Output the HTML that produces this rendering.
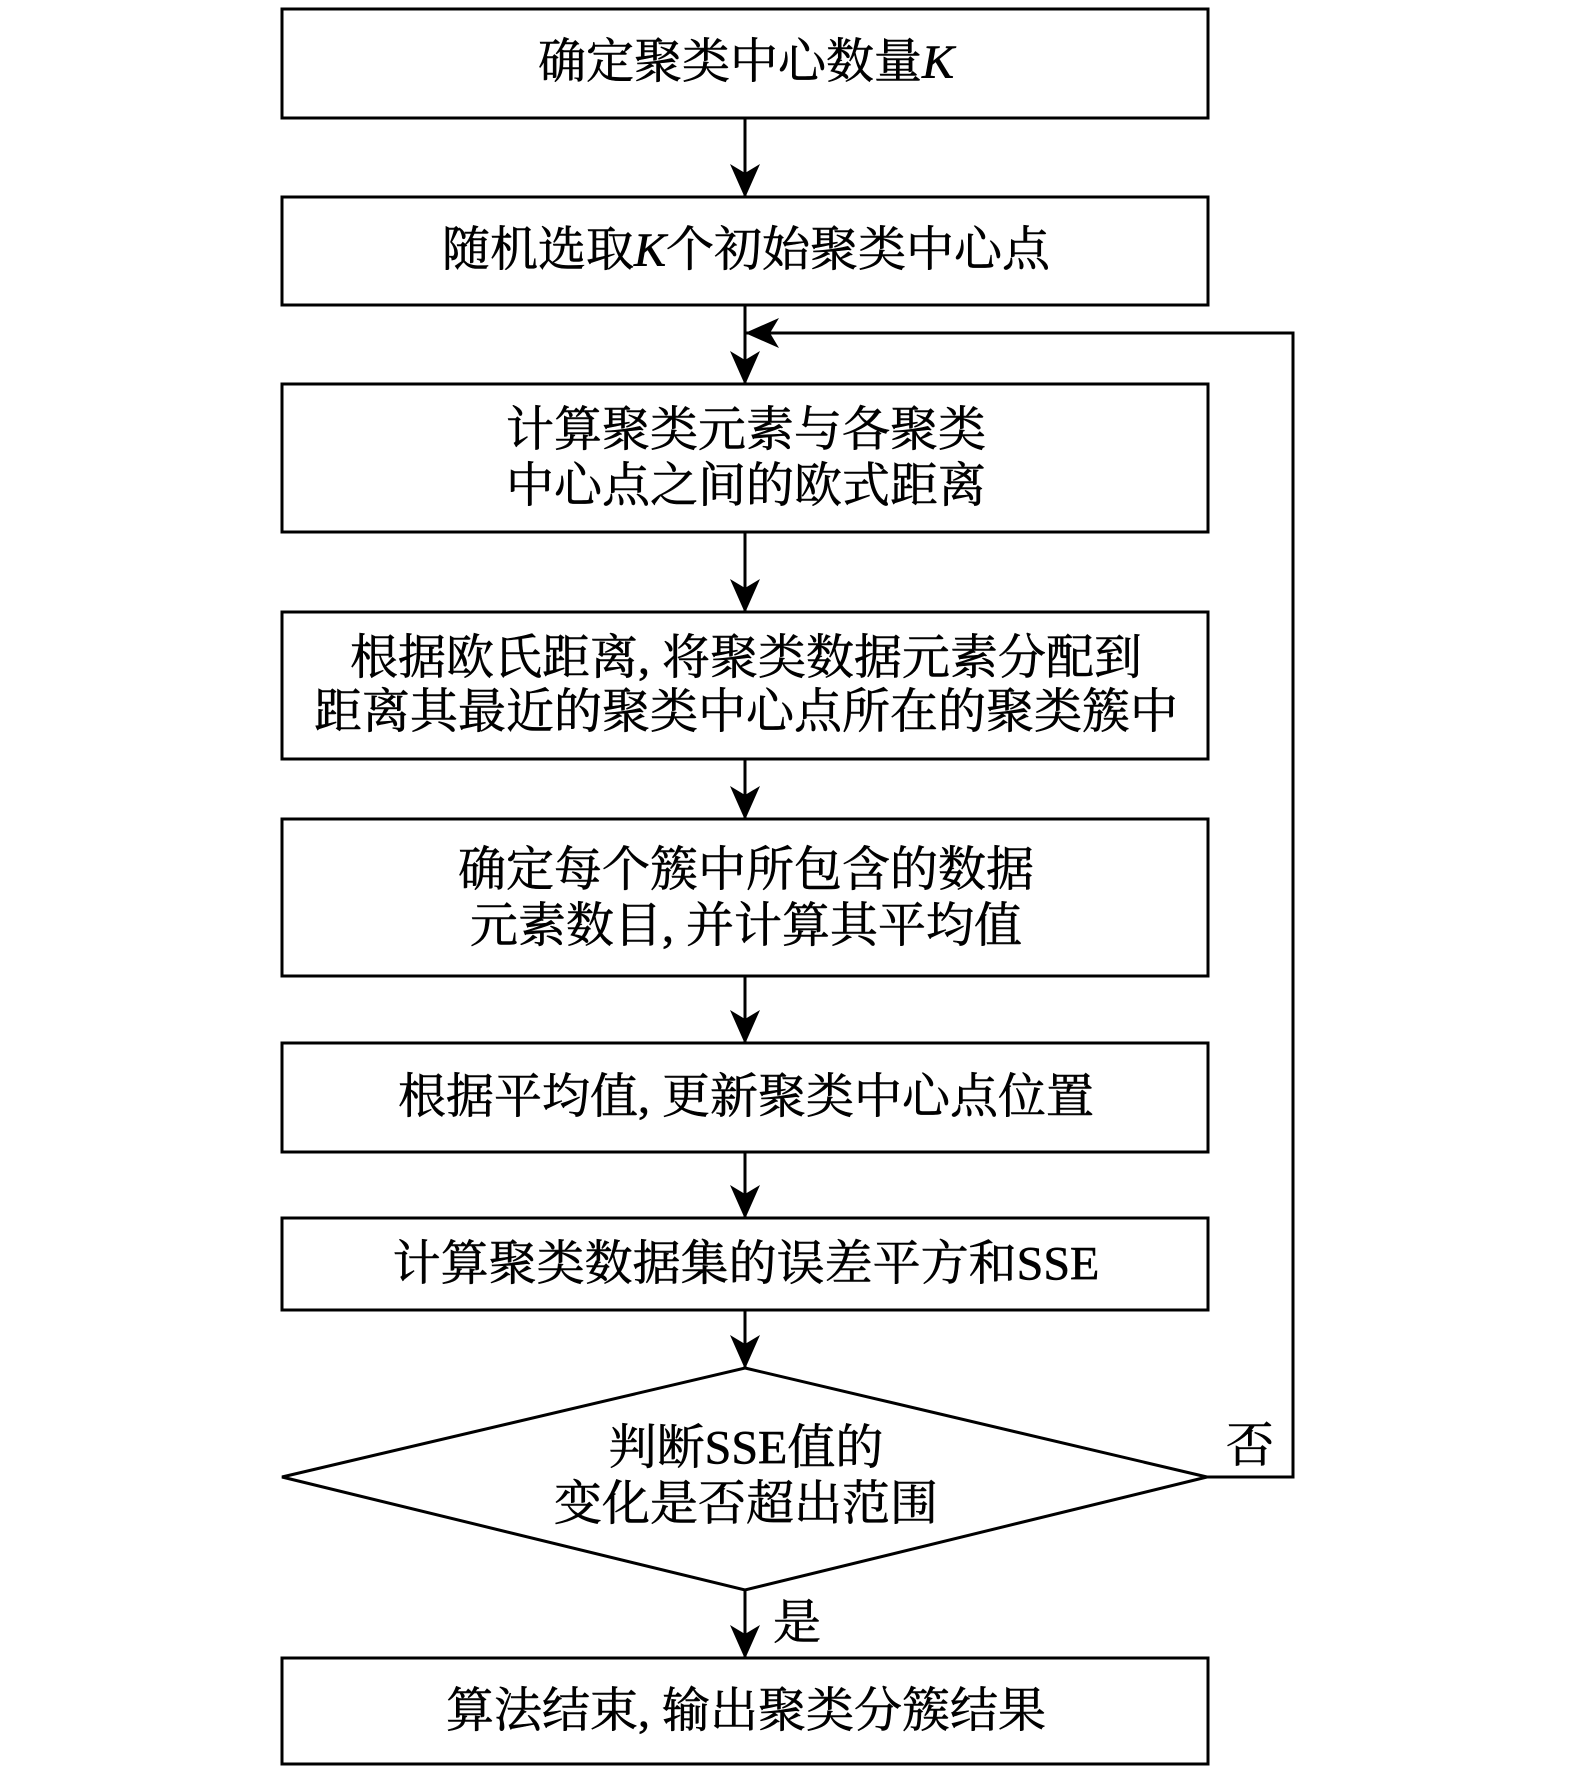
<!DOCTYPE html>
<html><head><meta charset="utf-8"><style>
html,body{margin:0;padding:0;background:#fff;}
svg{display:block;}
text{font-family:"Liberation Serif","Noto Serif CJK SC",serif;font-size:48px;fill:#000;stroke:#000;stroke-width:0.6px;text-anchor:middle;dominant-baseline:central;}
</style></head><body>
<svg width="1575" height="1772" viewBox="0 0 1575 1772" xmlns="http://www.w3.org/2000/svg">
<defs>
<marker id="a" viewBox="0 0 34 30" refX="33" refY="15" markerWidth="34" markerHeight="30" markerUnits="userSpaceOnUse" orient="auto">
<path d="M0,0 L34,15 L0,30 L9,15 Z" fill="#000"/>
</marker>
</defs>
<g fill="none" stroke="#000" stroke-width="3">
<rect x="282" y="9" width="926" height="109"/>
<rect x="282" y="197" width="926" height="108"/>
<rect x="282" y="384" width="926" height="148"/>
<rect x="282" y="612" width="926" height="147"/>
<rect x="282" y="819" width="926" height="157"/>
<rect x="282" y="1043" width="926" height="109"/>
<rect x="282" y="1218" width="926" height="92"/>
<polygon points="745,1368 1207,1477 745,1590 282,1477"/>
<rect x="282" y="1658" width="926" height="106"/>
<line x1="745" y1="118" x2="745" y2="197" marker-end="url(#a)"/>
<line x1="745" y1="305" x2="745" y2="384" marker-end="url(#a)"/>
<line x1="745" y1="532" x2="745" y2="612" marker-end="url(#a)"/>
<line x1="745" y1="759" x2="745" y2="819" marker-end="url(#a)"/>
<line x1="745" y1="976" x2="745" y2="1043" marker-end="url(#a)"/>
<line x1="745" y1="1152" x2="745" y2="1218" marker-end="url(#a)"/>
<line x1="745" y1="1310" x2="745" y2="1368" marker-end="url(#a)"/>
<line x1="745" y1="1590" x2="745" y2="1658" marker-end="url(#a)"/>
<polyline points="1207,1477 1293,1477 1293,333 746,333" marker-end="url(#a)"/>
</g>
<text x="746" y="62">确定聚类中心数量<tspan font-style="italic">K</tspan></text>
<text x="746" y="250">随机选取<tspan font-style="italic">K</tspan>个初始聚类中心点</text>
<text x="746" y="430">计算聚类元素与各聚类</text>
<text x="746" y="486">中心点之间的欧式距离</text>
<text x="746" y="658">根据欧氏距离, 将聚类数据元素分配到</text>
<text x="746" y="712">距离其最近的聚类中心点所在的聚类簇中</text>
<text x="746" y="870">确定每个簇中所包含的数据</text>
<text x="746" y="926">元素数目, 并计算其平均值</text>
<text x="746" y="1097">根据平均值, 更新聚类中心点位置</text>
<text x="746" y="1264">计算聚类数据集的误差平方和SSE</text>
<text x="746" y="1448">判断SSE值的</text>
<text x="746" y="1504">变化是否超出范围</text>
<text x="1250" y="1446">否</text>
<text x="797" y="1623">是</text>
<text x="746" y="1711">算法结束, 输出聚类分簇结果</text>
</svg>
</body></html>
